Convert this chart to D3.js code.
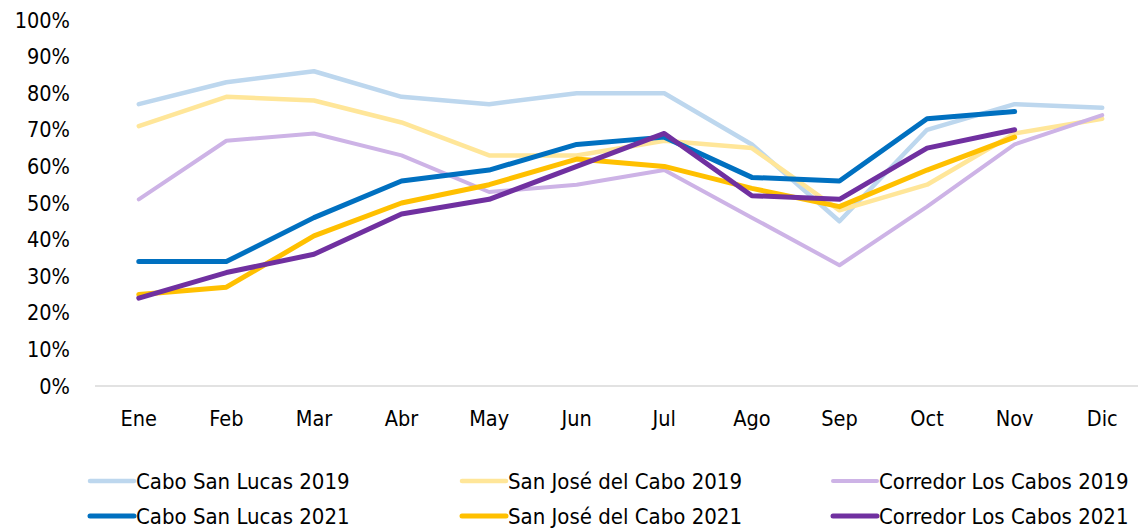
<!DOCTYPE html>
<html>
<head>
<meta charset="utf-8">
<script src="https://cdn.jsdelivr.net/npm/d3@7"></script>
<style>
  body { margin: 0; background: #fff; }
  text { font-family: "Liberation Sans Narrow", "DejaVu Sans Condensed", sans-serif; fill: #000; }
</style>
</head>
<body>
<svg width="1138" height="529"></svg>
<script>
var months = ["Ene", "Feb", "Mar", "Abr", "May", "Jun", "Jul", "Ago", "Sep", "Oct", "Nov", "Dic"];
var yTicks = [0, 0.1, 0.2, 0.3, 0.4, 0.5, 0.6, 0.7, 0.8, 0.9, 1];

var seriesNames = ["Cabo San Lucas 2019", "San José del Cabo 2019", "Corredor Los Cabos 2019",
                   "Cabo San Lucas 2021", "San José del Cabo 2021", "Corredor Los Cabos 2021"];

var csl2019 = [0.77, 0.83, 0.86, 0.79, 0.77, 0.80, 0.80, 0.66, 0.45, 0.70, 0.77, 0.76];
var sjc2019 = [0.71, 0.79, 0.78, 0.72, 0.63, 0.63, 0.67, 0.65, 0.48, 0.55, 0.69, 0.73];
var clc2019 = [0.51, 0.67, 0.69, 0.63, 0.53, 0.55, 0.59, 0.46, 0.33, 0.49, 0.66, 0.74];
var csl2021 = [0.34, 0.34, 0.46, 0.56, 0.59, 0.66, 0.68, 0.57, 0.56, 0.73, 0.75, null];
var sjc2021 = [0.25, 0.27, 0.41, 0.50, 0.55, 0.62, 0.60, 0.54, 0.49, 0.59, 0.68, null];
var clc2021 = [0.24, 0.31, 0.36, 0.47, 0.51, 0.60, 0.69, 0.52, 0.51, 0.65, 0.70, null];

var seriesValues = [csl2019, sjc2019, clc2019, csl2021, sjc2021, clc2021];
var colors = ["#BDD7EE", "#FFE699", "#CDB3E6", "#0070C0", "#FFC000", "#7030A0"];
var widths = [4.5, 4.5, 4, 5, 5, 5];

var svg = d3.select("svg");

var x = d3.scaleBand().domain(months).range([95, 1146]); // excel category axis
var y = d3.scaleLinear().domain([0, 1]).range([386, 20]);

// y axis labels (no gridlines in the original)
svg.append("g")
  .selectAll("text")
  .data(yTicks)
  .enter().append("text")
  .attr("x", 70)
  .attr("y", function(d) { return y(d); })
  .attr("dy", "0.35em")
  .attr("text-anchor", "end")
  .style("font-size", "21.5px")
  .text(d3.format(".0%"));

// bottom axis line
svg.append("line")
  .attr("x1", 95).attr("x2", 1138)
  .attr("y1", y(0)).attr("y2", y(0))
  .attr("stroke", "#d9d9d9")
  .attr("stroke-width", 1.5);

svg.append("g")
  .selectAll("text")
  .data(months)
  .enter().append("text")
  .attr("x", function(d) { return x(d) + x.bandwidth() / 2; })
  .attr("y", 418)
  .attr("dy", "0.35em")
  .attr("text-anchor", "middle")
  .style("font-size", "21.5px")
  .text(function(d) { return d; });

var line = d3.line()
  .defined(function(d) { return d != null; })
  .x(function(d, i) { return x(months[i]) + x.bandwidth() / 2; })
  .y(function(d) { return y(d); });

svg.append("g")
  .selectAll("path")
  .data(seriesValues)
  .enter().append("path")
  .attr("d", line)
  .attr("fill", "none")
  .attr("stroke", function(d, i) { return colors[i]; })
  .attr("stroke-width", function(d, i) { return widths[i]; })
  .attr("stroke-linejoin", "round")
  .attr("stroke-linecap", "round");

// legend, 3 columns x 2 rows
var legendX = [90, 462, 833];
var legendY = [481, 516];

var legend = svg.append("g")
  .selectAll("g")
  .data(seriesNames)
  .enter().append("g")
  .attr("transform", function(d, i) {
    return "translate(" + legendX[i % 3] + "," + legendY[Math.floor(i / 3)] + ")";
  });

legend.append("line")
  .attr("x1", 0).attr("x2", 44)
  .attr("stroke", function(d, i) { return colors[i]; })
  .attr("stroke-width", function(d, i) { return widths[i]; })
  .attr("stroke-linecap", "round");

legend.append("text")
  .attr("x", 46)
  .attr("dy", "0.35em")
  .style("font-size", "22px")
  .text(function(d) { return d; });
</script>
</body>
</html>
